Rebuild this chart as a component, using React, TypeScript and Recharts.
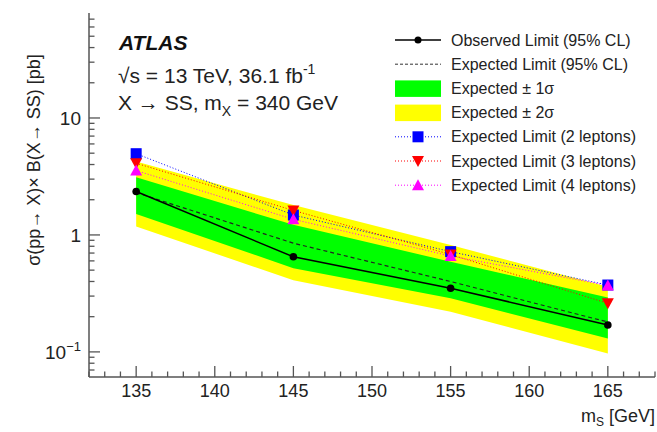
import React from "react";
import { ComposedChart, Area, Line, XAxis, YAxis } from "recharts";

// scalar mass points [GeV]
const masses = [135, 145, 155, 165];
// limits [pb]
const observed = [2.35, 0.65, 0.35, 0.17];
const expected = [2.3, 0.85, 0.4, 0.18];
const band1Lo = [1.51, 0.52, 0.287, 0.13];
const band1Hi = [3.12, 1.22, 0.59, 0.292];
const band2Lo = [1.18, 0.41, 0.22, 0.097];
const band2Hi = [4.25, 1.8, 0.82, 0.36];
const exp2l = [4.95, 1.48, 0.72, 0.373];
const exp3l = [4.1, 1.62, 0.68, 0.26];
const exp4l = [3.55, 1.36, 0.66, 0.37];

const xTicks = Array.from({ length: 37 }, (_, i) => 132 + i);
const yTicks = [
  0.07, 0.08, 0.09, 0.1, 0.2, 0.3, 0.4, 0.5, 0.6, 0.7, 0.8, 0.9, 1, 2, 3, 4, 5,
  6, 7, 8, 9, 10, 20, 30, 40, 50, 60, 70,
];

const data = masses.map((m, i) => ({
  m,
  obs: observed[i],
  exp: expected[i],
  s1: [band1Lo[i], band1Hi[i]],
  s2: [band2Lo[i], band2Hi[i]],
  l2: exp2l[i],
  l3: exp3l[i],
  l4: exp4l[i],
}));

const FONT = "'Liberation Sans', Arial, Helvetica, sans-serif";
const AXIS = "#555";

const isDecade = (v: number) =>
  Math.abs(Math.log10(v) - Math.round(Math.log10(v))) < 1e-6;

// ROOT style ticks, drawn inwards
const XTick = (props: any) => {
  const { x, y, payload, side } = props;
  const v = payload.value;
  const major = v % 5 === 0;
  const len = major ? 11 : 5.5;
  const dir = side === "top" ? 1 : -1;
  return (
    <g>
      <line x1={x} x2={x} y1={y} y2={y + dir * len} stroke={AXIS} strokeWidth={1.3} />
      {side !== "top" && major && (
        <text x={x} y={y + 20} textAnchor="middle" fontSize={18} fontFamily={FONT} fill="#222">
          {v}
        </text>
      )}
    </g>
  );
};

const YTick = (props: any) => {
  const { x, y, payload, side } = props;
  const v = payload.value;
  const major = isDecade(v);
  const len = major ? 11 : 5.5;
  const dir = side === "right" ? -1 : 1;
  return (
    <g>
      <line x1={x} x2={x + dir * len} y1={y} y2={y} stroke={AXIS} strokeWidth={1.3} />
      {side !== "right" && major && (
        <text x={x - 8} y={y + 7} textAnchor="end" fontSize={19} fontFamily={FONT} fill="#222">
          {v < 1 ? (
            <>
              10
              <tspan fontSize={13} dy={-8}>
                −1
              </tspan>
            </>
          ) : (
            v
          )}
        </text>
      )}
    </g>
  );
};

const Square = (props: any) => {
  const { cx, cy } = props;
  if (cx == null || cy == null) return null;
  return <rect x={cx - 5.5} y={cy - 5.5} width={11} height={11} fill="#0000ff" />;
};

const TriDown = (props: any) => {
  const { cx, cy } = props;
  if (cx == null || cy == null) return null;
  return <path d={`M${cx - 6},${cy - 5} L${cx + 6},${cy - 5} L${cx},${cy + 6} Z`} fill="#ff0000" />;
};

const TriUp = (props: any) => {
  const { cx, cy } = props;
  if (cx == null || cy == null) return null;
  return <path d={`M${cx - 6},${cy + 5} L${cx + 6},${cy + 5} L${cx},${cy - 6} Z`} fill="#ff00ff" />;
};

const legendRows = [
  "Observed Limit (95% CL)",
  "Expected Limit (95% CL)",
  "Expected ± 1σ",
  "Expected ± 2σ",
  "Expected Limit (2 leptons)",
  "Expected Limit (3 leptons)",
  "Expected Limit (4 leptons)",
];

const Overlay = () => {
  const rowY = (i: number) => 40 + i * 24.2;
  const sx0 = 395;
  const sx1 = 441;
  const mid = (sx0 + sx1) / 2;
  return (
    <svg
      width={657}
      height={432}
      style={{ position: "absolute", left: 0, top: 0, pointerEvents: "none" }}
      fontFamily={FONT}
    >
      <text x={119} y={50} fontSize={21} fontWeight="bold" fontStyle="italic" fill="#111">
        ATLAS
      </text>
      <text x={118} y={83} fontSize={21} fill="#222">
        √s = 13 TeV, 36.1 fb
        <tspan fontSize={14} dy={-9}>
          -1
        </tspan>
      </text>
      <text x={118} y={110} fontSize={21} fill="#222">
        X → SS, m
        <tspan fontSize={14} dy={6}>
          X
        </tspan>
        <tspan dy={-6}> = 340 GeV</tspan>
      </text>

      {/* legend */}
      <line x1={sx0} x2={sx1} y1={rowY(0)} y2={rowY(0)} stroke="#000" strokeWidth={1.3} />
      <circle cx={mid} cy={rowY(0)} r={3.5} fill="#000" />
      <line x1={sx0} x2={sx1} y1={rowY(1)} y2={rowY(1)} stroke="#333" strokeWidth={1} strokeDasharray="3 2" />
      <rect x={sx0} y={rowY(2) - 8} width={sx1 - sx0} height={16.5} fill="#00ff00" />
      <rect x={sx0} y={rowY(3) - 8} width={sx1 - sx0} height={16.5} fill="#ffff00" />
      <line x1={sx0} x2={sx1} y1={rowY(4)} y2={rowY(4)} stroke="#0000ff" strokeDasharray="1 2" />
      <rect x={mid - 5.5} y={rowY(4) - 5.5} width={11} height={11} fill="#0000ff" />
      <line x1={sx0} x2={sx1} y1={rowY(5)} y2={rowY(5)} stroke="#ff0000" strokeDasharray="1 2" />
      <path d={`M${mid - 6},${rowY(5) - 5} L${mid + 6},${rowY(5) - 5} L${mid},${rowY(5) + 6} Z`} fill="#ff0000" />
      <line x1={sx0} x2={sx1} y1={rowY(6)} y2={rowY(6)} stroke="#ff00ff" strokeDasharray="1 2" />
      <path d={`M${mid - 6},${rowY(6) + 5} L${mid + 6},${rowY(6) + 5} L${mid},${rowY(6) - 6} Z`} fill="#ff00ff" />
      {legendRows.map((t, i) => (
        <text key={t} x={451} y={rowY(i) + 5.5} fontSize={16} fill="#222">
          {t}
        </text>
      ))}

      {/* axis titles */}
      <text
        transform="translate(40,160) rotate(-90)"
        textAnchor="middle"
        fontSize={18}
        fill="#222"
      >
        σ(pp→ X)× B(X→ SS) [pb]
      </text>
      <text x={655} y={422} textAnchor="end" fontSize={18} fill="#222">
        m
        <tspan fontSize={12} dy={4}>
          S
        </tspan>
        <tspan dy={-4}> [GeV]</tspan>
      </text>
    </svg>
  );
};

export default function App() {
  return (
    <div
      style={{
        position: "absolute",
        left: 0,
        top: 0,
        width: 657,
        height: 432,
        background: "#fff",
      }}
    >
      <ComposedChart
        width={657}
        height={432}
        data={data}
        margin={{ top: 13, right: 2, bottom: 25, left: 0 }}
      >
        <XAxis
          xAxisId="b"
          dataKey="m"
          type="number"
          domain={[132, 168]}
          ticks={xTicks}
          interval={0}
          allowDataOverflow
          height={30}
          tickSize={0}
          tickMargin={0}
          tickLine={false}
          axisLine={{ stroke: AXIS, strokeWidth: 1.5 }}
          tick={<XTick side="bottom" />}
        />
        <XAxis
          xAxisId="t"
          orientation="top"
          dataKey="m"
          type="number"
          domain={[132, 168]}
          ticks={xTicks}
          interval={0}
          allowDataOverflow
          height={0}
          tickSize={0}
          tickMargin={0}
          tickLine={false}
          axisLine={{ stroke: AXIS, strokeWidth: 1.5 }}
          tick={<XTick side="top" />}
        />
        <YAxis
          yAxisId="l"
          scale="log"
          domain={[0.061, 79]}
          ticks={yTicks}
          interval={0}
          allowDataOverflow
          width={89}
          tickSize={0}
          tickMargin={0}
          tickLine={false}
          axisLine={{ stroke: AXIS, strokeWidth: 1.5 }}
          tick={<YTick side="left" />}
        />
        <YAxis
          yAxisId="r"
          orientation="right"
          scale="log"
          domain={[0.061, 79]}
          ticks={yTicks}
          interval={0}
          allowDataOverflow
          width={0}
          tickSize={0}
          tickMargin={0}
          tickLine={false}
          axisLine={{ stroke: AXIS, strokeWidth: 1.5 }}
          tick={<YTick side="right" />}
        />

        <Area
          xAxisId="b"
          yAxisId="l"
          dataKey="s2"
          stroke="none"
          fill="#ffff00"
          fillOpacity={1}
          isAnimationActive={false}
        />
        <Area
          xAxisId="b"
          yAxisId="l"
          dataKey="s1"
          stroke="none"
          fill="#00ff00"
          fillOpacity={1}
          isAnimationActive={false}
        />
        <Line
          xAxisId="b"
          yAxisId="l"
          dataKey="l2"
          stroke="#0000ff"
          strokeWidth={1}
          strokeDasharray="1 2"
          dot={<Square />}
          isAnimationActive={false}
        />
        <Line
          xAxisId="b"
          yAxisId="l"
          dataKey="l3"
          stroke="#ff0000"
          strokeWidth={1}
          strokeDasharray="1 2"
          dot={<TriDown />}
          isAnimationActive={false}
        />
        <Line
          xAxisId="b"
          yAxisId="l"
          dataKey="l4"
          stroke="#ff00ff"
          strokeWidth={1}
          strokeDasharray="1 2"
          dot={<TriUp />}
          isAnimationActive={false}
        />
        <Line
          xAxisId="b"
          yAxisId="l"
          dataKey="exp"
          stroke="#222"
          strokeWidth={1.2}
          strokeDasharray="4 3"
          dot={false}
          isAnimationActive={false}
        />
        <Line
          xAxisId="b"
          yAxisId="l"
          dataKey="obs"
          stroke="#000"
          strokeWidth={1.5}
          dot={{ r: 3.8, fill: "#000", stroke: "none" }}
          isAnimationActive={false}
        />
      </ComposedChart>
      <Overlay />
    </div>
  );
}
